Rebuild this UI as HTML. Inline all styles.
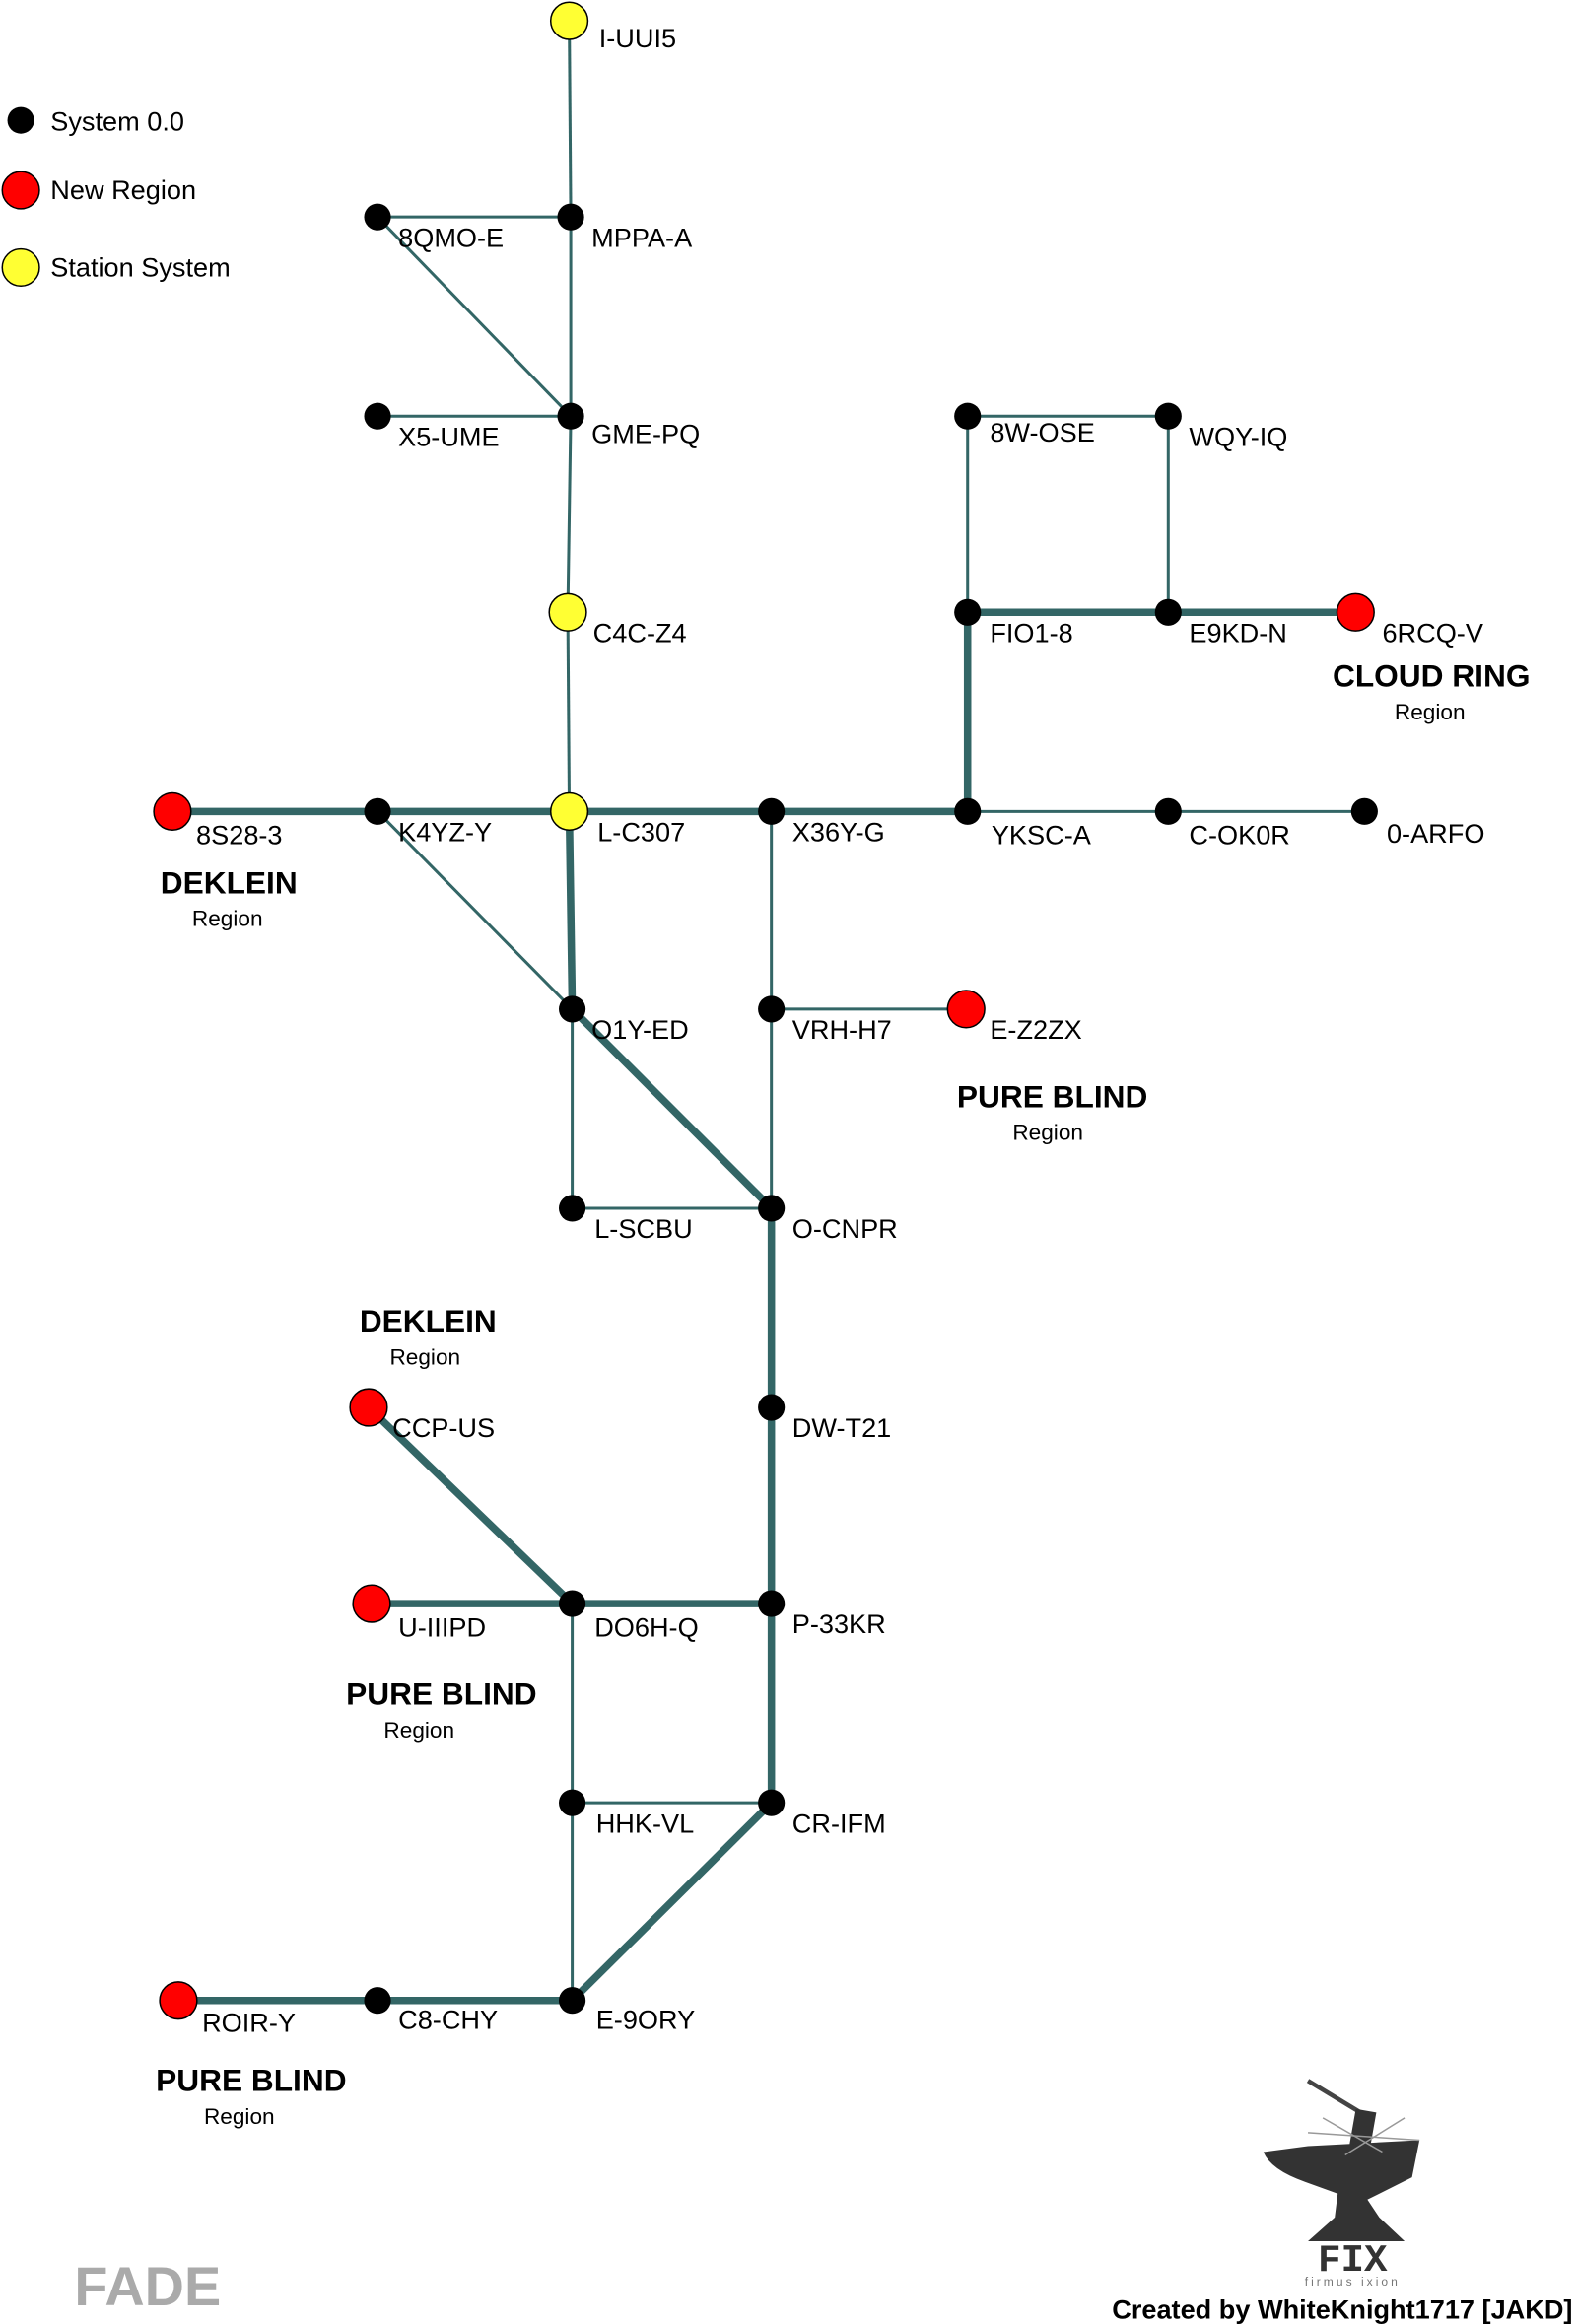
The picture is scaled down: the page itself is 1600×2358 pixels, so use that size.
<!DOCTYPE html>
<html><head><meta charset="utf-8"><style>html,body{margin:0;padding:0;background:#fff}svg{display:block}</style></head><body>
<svg width="1600" height="2358" viewBox="0 0 1061 1563.7" preserveAspectRatio="none" xmlns="http://www.w3.org/2000/svg" font-family="Liberation Sans, sans-serif">
<rect width="1061" height="1564" fill="#fff"/>
<g stroke="#336666" stroke-width="2" fill="none">
<line x1="383" y1="14" x2="384" y2="146"/><line x1="384" y1="146" x2="384" y2="280"/>
<line x1="254" y1="146" x2="384" y2="146"/><line x1="254" y1="146" x2="384" y2="280"/>
<line x1="254" y1="280" x2="384" y2="280"/><line x1="384" y1="280" x2="382" y2="412"/>
<line x1="382" y1="412" x2="383" y2="546"/><line x1="254" y1="546" x2="385" y2="679"/>
<line x1="651" y1="280" x2="786" y2="280"/><line x1="651" y1="280" x2="651" y2="412"/>
<line x1="786" y1="280" x2="786" y2="412"/><line x1="651" y1="546" x2="918" y2="546"/>
<line x1="519" y1="546" x2="519" y2="813"/><line x1="519" y1="679" x2="650" y2="679"/>
<line x1="385" y1="679" x2="385" y2="813"/><line x1="385" y1="813" x2="519" y2="813"/>
<line x1="385" y1="1079" x2="385" y2="1346"/><line x1="385" y1="1213" x2="519" y2="1213"/>
</g>
<g stroke="#336666" stroke-width="5" fill="none">
<line x1="116" y1="546" x2="651" y2="546"/><line x1="651" y1="546" x2="651" y2="412"/>
<line x1="651" y1="412" x2="912" y2="412"/><line x1="383" y1="546" x2="385" y2="679"/>
<line x1="385" y1="679" x2="519" y2="813"/><line x1="519" y1="813" x2="519" y2="1213"/>
<line x1="248" y1="947" x2="385" y2="1079"/><line x1="250" y1="1079" x2="519" y2="1079"/>
<line x1="519" y1="1213" x2="385" y2="1346"/><line x1="120" y1="1346" x2="385" y2="1346"/>
</g>
<g fill="#000">
<circle cx="384" cy="146" r="9"/><circle cx="254" cy="146" r="9"/><circle cx="384" cy="280" r="9"/><circle cx="254" cy="280" r="9"/>
<circle cx="254" cy="546" r="9"/><circle cx="519" cy="546" r="9"/><circle cx="651" cy="546" r="9"/><circle cx="786" cy="546" r="9"/><circle cx="918" cy="546" r="9"/>
<circle cx="651" cy="412" r="9"/><circle cx="786" cy="412" r="9"/><circle cx="651" cy="280" r="9"/><circle cx="786" cy="280" r="9"/>
<circle cx="385" cy="679" r="9"/><circle cx="519" cy="679" r="9"/><circle cx="385" cy="813" r="9"/><circle cx="519" cy="813" r="9"/>
<circle cx="519" cy="947" r="9"/><circle cx="385" cy="1079" r="9"/><circle cx="519" cy="1079" r="9"/>
<circle cx="385" cy="1213" r="9"/><circle cx="519" cy="1213" r="9"/><circle cx="254" cy="1346" r="9"/><circle cx="385" cy="1346" r="9"/>
<circle cx="14" cy="81" r="9"/>
</g>
<g stroke="#000" stroke-width="1">
<circle cx="383" cy="14" r="12.5" fill="#ffff33"/><circle cx="382" cy="412" r="12.5" fill="#ffff33"/><circle cx="383" cy="546" r="12.5" fill="#ffff33"/>
<circle cx="14" cy="180" r="12.5" fill="#ffff33"/>
<circle cx="14" cy="128" r="12.5" fill="#ff0000"/>
<circle cx="116" cy="546" r="12.5" fill="#ff0000"/><circle cx="912" cy="412" r="12.5" fill="#ff0000"/><circle cx="650" cy="679" r="12.5" fill="#ff0000"/>
<circle cx="248" cy="947" r="12.5" fill="#ff0000"/><circle cx="250" cy="1079" r="12.5" fill="#ff0000"/><circle cx="120" cy="1346" r="12.5" fill="#ff0000"/>
</g>
<g font-size="18" fill="#000">
<text x="34" y="88">System 0.0</text><text x="34" y="134">New Region</text><text x="34" y="186">Station System</text>
<text x="403" y="32">I-UUI5</text><text x="398" y="166">MPPA-A</text><text x="268" y="166">8QMO-E</text>
<text x="398" y="298">GME-PQ</text><text x="268" y="300">X5-UME</text><text x="399" y="432">C4C-Z4</text>
<text x="402" y="566">L-C307</text><text x="268" y="566">K4YZ-Y</text><text x="132" y="568">8S28-3</text>
<text x="533" y="566">X36Y-G</text><text x="667" y="568">YKSC-A</text><text x="800" y="568">C-OK0R</text><text x="933" y="567">0-ARFO</text>
<text x="666" y="432">FIO1-8</text><text x="800" y="432">E9KD-N</text><text x="930" y="432">6RCQ-V</text>
<text x="666" y="297">8W-OSE</text><text x="800" y="300">WQY-IQ</text>
<text x="398" y="699">O1Y-ED</text><text x="533" y="699">VRH-H7</text><text x="666" y="699">E-Z2ZX</text>
<text x="400" y="833">L-SCBU</text><text x="533" y="833">O-CNPR</text><text x="533" y="967">DW-T21</text>
<text x="264" y="967">CCP-US</text><text x="268" y="1101">U-IIIPD</text><text x="400" y="1101">DO6H-Q</text><text x="533" y="1099">P-33KR</text>
<text x="401" y="1233">HHK-VL</text><text x="533" y="1233">CR-IFM</text>
<text x="136" y="1367">ROIR-Y</text><text x="268" y="1365">C8-CHY</text><text x="401" y="1365">E-9ORY</text>
</g>
<g text-anchor="middle">
<text x="963" y="462" font-size="21" font-weight="bold">CLOUD RING</text><text x="962" y="484" font-size="15">Region</text>
<text x="154" y="601" font-size="21" font-weight="bold">DEKLEIN</text><text x="153" y="623" font-size="15">Region</text>
<text x="708" y="745" font-size="21" font-weight="bold">PURE BLIND</text><text x="705" y="767" font-size="15">Region</text>
<text x="288" y="896" font-size="21" font-weight="bold">DEKLEIN</text><text x="286" y="918" font-size="15">Region</text>
<text x="297" y="1147" font-size="21" font-weight="bold">PURE BLIND</text><text x="282" y="1169" font-size="15">Region</text>
<text x="169" y="1407" font-size="21" font-weight="bold">PURE BLIND</text><text x="161" y="1429" font-size="15">Region</text>
</g>
<text x="50" y="1551" font-size="37" font-weight="bold" fill="#aaaaaa">FADE</text>
<text x="1058" y="1560" font-size="18" font-weight="bold" text-anchor="end">Created by WhiteKnight1717 [JAKD]</text>
<g fill="#333">
<line x1="880" y1="1400" x2="918" y2="1423" stroke="#444" stroke-width="3"/>
<rect x="910" y="1420" width="14" height="24" transform="rotate(10 917 1432)"/>
<path d="M850 1448 L880 1444 L955 1440 L950 1465 L920 1480 L928 1492 L945 1508 L880 1508 L898 1492 L900 1476 L878 1468 Q855 1460 850 1448 Z"/>
<g stroke="#999" stroke-width="1"><line x1="880" y1="1435" x2="955" y2="1440"/><line x1="890" y1="1425" x2="930" y2="1448"/><line x1="945" y1="1425" x2="905" y2="1450"/></g>
<text x="910" y="1528" font-size="26" font-weight="bold" text-anchor="middle" font-family="Liberation Mono, monospace" fill="#333">FIX</text>
<text x="910" y="1538" font-size="8" text-anchor="middle" fill="#777" letter-spacing="2">firmus ixion</text>
</g>
</svg>
</body></html>
